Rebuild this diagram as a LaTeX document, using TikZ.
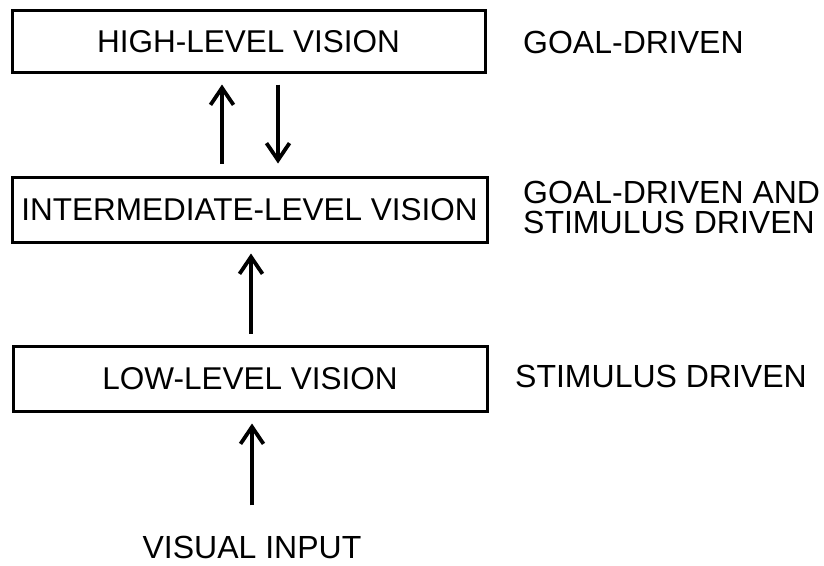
\documentclass[tikz,border=0pt]{standalone}
\usepackage{fontspec}
\setmainfont{Liberation Sans}
\usetikzlibrary{arrows.meta}
\begin{document}
\begin{tikzpicture}[x=1pt,y=1pt,
  lvlbox/.style={draw, line width=3pt, inner sep=0pt, minimum height=63pt,
    font=\fontsize{31.5}{30}\selectfont, text height=22.5pt, text depth=0pt},
  lbl/.style={inner sep=0pt, anchor=base west, align=left, font=\fontsize{32}{30}\selectfont},
  arr/.style={line width=3.8pt, -{Straight Barb[length=17pt,width=23pt,line width=3.8pt]}}
]
\useasboundingbox (0,0) rectangle (824,-565);
\node[lvlbox, minimum width=473pt, minimum height=62pt] (high) at (248.5,-41) {HIGH-LEVEL VISION};
\node[lvlbox, minimum width=475pt, minimum height=65pt] (mid) at (249.5,-209.5) {INTERMEDIATE-LEVEL VISION};
\node[lvlbox, minimum width=474pt, minimum height=65pt] (low) at (250,-378.5) {LOW-LEVEL VISION};
\node[inner sep=0pt, anchor=base, font=\fontsize{32}{30}\selectfont] (input) at (252,-558) {VISUAL INPUT};

\node[lbl] (lhigh) at (523,-53) {GOAL-DRIVEN};
\node[lbl] (lmid) at (523,-233) {GOAL-DRIVEN AND\\STIMULUS DRIVEN};
\node[lbl] (llow) at (515,-387) {STIMULUS DRIVEN};

\draw[arr, shorten <=12pt, shorten >=11pt] ([xshift=-27.5pt]mid.north) -- ([xshift=-26.5pt]high.south);
\draw[arr, shorten <=11pt, shorten >=12pt] ([xshift=29.5pt]high.south) -- ([xshift=28.5pt]mid.north);
\draw[arr, shorten <=11pt, shorten >=10pt] ([xshift=1pt]low.north) -- ([xshift=1.5pt]mid.south);
\draw[arr, shorten <=30pt, shorten >=11pt] (input.north) -- ([xshift=2pt]low.south);
\end{tikzpicture}
\end{document}
